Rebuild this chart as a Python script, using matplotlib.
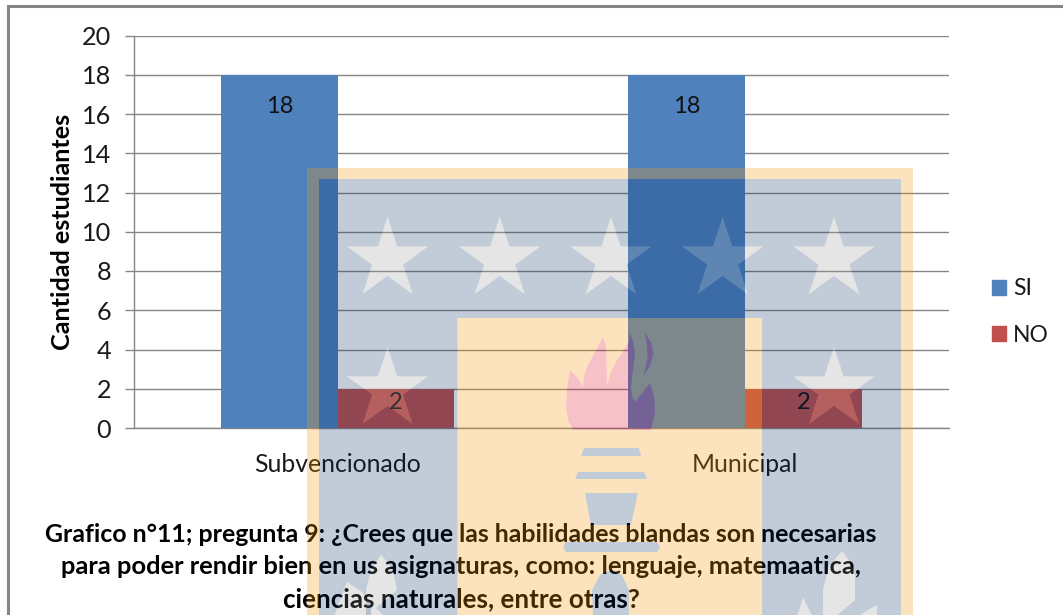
import numpy as np
import matplotlib
matplotlib.use("Agg")
import matplotlib.pyplot as plt
from matplotlib.patches import PathPatch, Patch
from matplotlib.path import Path

plt.rcParams['font.family'] = ['Lato', 'DejaVu Sans']

categories = ['Subvencionado', 'Municipal']
si_values = [18, 18]
no_values = [2, 2]
y_ticks = [0, 2, 4, 6, 8, 10, 12, 14, 16, 18, 20]
series_names = ['SI', 'NO']
y_label = 'Cantidad estudiantes'
title_lines = ['Grafico n°11; pregunta 9: ¿Crees que las habilidades blandas son necesarias',
               'para poder rendir bien en us asignaturas, como: lenguaje, matemaatica,',
               'ciencias naturales, entre otras?']

W, H = 1063, 615
fig = plt.figure(figsize=(W / 100, H / 100), dpi=100, facecolor='white')

# page frame
frame = fig.add_axes([0, 0, 1, 1], zorder=0)
frame.set_xlim(0, W); frame.set_ylim(H, 0); frame.axis('off')
frame.plot([8, 8, W], [H, 6, 6], color='#868686', lw=2.2, solid_joinstyle='miter')

# chart
GRAY = '#868686'
ax = fig.add_axes([134 / W, 1 - 428 / H, (948.5 - 134) / W, (428 - 35.5) / H], zorder=1)
ax.patch.set_alpha(0)
x = np.arange(len(categories))
bw = 0.2865
b1 = ax.bar(x - bw / 2, si_values, bw, color='#4F81BD', label=series_names[0], zorder=3)
b2 = ax.bar(x + bw / 2, no_values, bw, color='#C0504D', label=series_names[1], zorder=3)
ax.set_xlim(-0.5, 1.5); ax.set_ylim(0, 20)
ax.set_yticks(y_ticks)
ax.set_xticks(x, categories)
ax.grid(axis='y', color=GRAY, lw=1.0, zorder=1)
ax.set_axisbelow(True)
for s in ['top', 'right']:
    ax.spines[s].set_visible(False)
for s in ['left', 'bottom']:
    ax.spines[s].set_color(GRAY); ax.spines[s].set_linewidth(1.0)
ax.tick_params(axis='y', length=6.5, width=1.0, color=GRAY, pad=10, labelsize=18.2, labelcolor='#1a1a1a')
ax.tick_params(axis='x', length=0, pad=18.3, labelsize=17.8, labelcolor='#1a1a1a')
ax.set_ylabel(y_label, fontsize=18.2, fontweight='bold', color='black', va='center')
ax.yaxis.set_label_coords((62 - 134) / (948.5 - 134), 0.5)

for bars, vals, off in [(b1, si_values, -22.7), (b2, no_values, -10)]:
    for r, v in zip(bars, vals):
        ax.annotate(str(v), (r.get_x() + r.get_width() / 2, v), xytext=(0, off),
                    textcoords='offset points', ha='center', va='center',
                    fontsize=17, color='#111111', zorder=5)

handles = [Patch(color='#4F81BD', label=series_names[0]), Patch(color='#C0504D', label=series_names[1])]
fig.legend(handles=handles, loc='center left', bbox_to_anchor=(992 / W, 1 - 312 / H),
           frameon=False, fontsize=16.5, handlelength=0.61, handleheight=0.61,
           handletextpad=0.3, labelspacing=1.1, borderpad=0, borderaxespad=0, labelcolor='#1a1a1a')

for y, line, size in zip([534.5, 566, 599], title_lines, [17.9, 18.35, 18.7]):
    frame.text(461, y, line, ha='center', va='center', fontsize=size, fontweight='bold', color='black')

# watermark overlay, in page pixels
over = fig.add_axes([0, 0, 1, 1], zorder=10)
over.set_xlim(0, W); over.set_ylim(H, 0); over.axis('off'); over.patch.set_alpha(0)

def area(p):
    p = np.asarray(p, float)
    return 0.5 * np.sum(p[:, 0] * np.roll(p[:, 1], -1) - np.roll(p[:, 0], -1) * p[:, 1])

def rect(a, b, c, d):
    return [(a, b), (c, b), (c, d), (a, d)]

def star(cx, cy, R=42.6):
    r = R * 0.382
    return [(cx + (R if i % 2 == 0 else r) * np.sin(i * np.pi / 5),
             cy - (R if i % 2 == 0 else r) * np.cos(i * np.pi / 5)) for i in range(10)]

def region(color, alpha, solids, holes=()):
    verts, codes = [], []
    for group, sign in [(solids, 1), (holes, -1)]:
        for p in group:
            p = np.asarray(p, float)
            if area(p) * sign < 0:
                p = p[::-1]
            verts += list(p) + [p[0]]
            codes += [Path.MOVETO] + [Path.LINETO] * (len(p) - 1) + [Path.CLOSEPOLY]
    over.add_patch(PathPatch(Path(verts, codes), fc=color, ec='none', alpha=alpha, lw=0))

outer = rect(307, 168, 913, H + 2)
shield = rect(319, 179, 901, H + 2)
inner = rect(457.5, 318, 762, H + 2)
stars = [star(cx, 259.6) for cx in (387.6, 499.7, 611, 722.6, 834)] + \
        [star(cx, 389.6) for cx in (387.6, 834)]
leaves = [
    [(381, 555), (388, 563), (393, 572), (397, 590), (376, 608), (385, 617), (366, 617), (366, 590), (371, 570)],
    [(347, 582), (362, 592), (371, 606), (371, 617), (334, 617), (340, 600)],
    [(842, 551), (850, 562), (855, 575), (855, 600), (835, 617), (823, 617), (823, 590), (829, 566)],
    [(803, 598), (813, 617), (797, 617)],
    [(877, 605), (877, 617), (860, 617), (863, 613)],
]
flame = [(573, 430), (568, 420), (566, 407), (567, 388), (570, 370), (577, 377), (583, 387), (584, 376), (587, 367),
         (595, 352), (603, 337), (606, 347), (606.5, 365), (607, 385), (611, 372), (617, 360), (623, 351), (629, 342),
         (629.5, 333), (633, 341), (635, 353), (633, 370), (631, 387), (632, 396), (635, 402), (643, 392), (650, 383),
         (654, 397), (655, 413), (651, 430)]
wisp = [(645, 333), (651, 342), (653.5, 353), (650, 366), (643.5, 375), (646, 366), (647.5, 357), (647, 345)]
torch = [
    [(584, 448), (639, 448), (641, 456), (581, 456)],
    [(578, 472), (644, 472), (647, 479), (575, 479)],
    [(585, 493), (638, 493), (631, 525), (591, 525)],
    [(566, 542), (657, 542), (660, 547), (657, 552), (566, 552), (563, 547)],
    [(593, H + 2), (592, 590), (600, 575), (611, 570), (622, 575), (629, 590), (629, H + 2)],
]

region((248 / 255, 155 / 255, 11 / 255), 0.27, [outer, inner], [shield, flame, wisp] + torch)
region((0, 42 / 255, 97 / 255), 0.24, [shield] + torch, [inner] + stars + leaves)
region((150 / 255, 150 / 255, 150 / 255), 0.24, stars + leaves)
region((227 / 255, 8 / 255, 39 / 255), 0.25, [flame, wisp])

fig.savefig('out.png', dpi=100, facecolor='white')
